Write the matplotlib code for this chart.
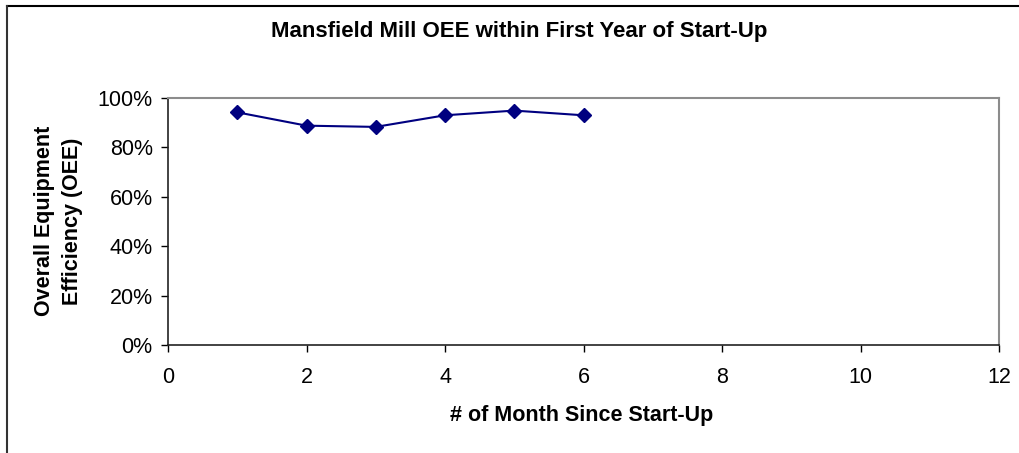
import matplotlib
matplotlib.use("Agg")
import matplotlib.pyplot as plt
from matplotlib.lines import Line2D
from matplotlib.ticker import FuncFormatter

months = [1, 2, 3, 4, 5, 6]
oee = [0.942, 0.888, 0.883, 0.930, 0.949, 0.930]
x_ticks = [0, 2, 4, 6, 8, 10, 12]
y_ticks = [0, 0.2, 0.4, 0.6, 0.8, 1.0]

plt.rcParams['font.family'] = ['Liberation Sans', 'DejaVu Sans']

W, H = 1019, 453
fig = plt.figure(figsize=(W/100, H/100), dpi=100)
ax = fig.add_axes([168/W, 1-345/H, (999-168)/W, (345-98)/H])

ax.plot(months, oee, color='#000080', marker='D', markersize=7, linewidth=1.5)

ax.set_xlim(0, 12)
ax.set_ylim(0, 1.0)
ax.set_xticks(x_ticks)
ax.set_yticks(y_ticks)
ax.yaxis.set_major_formatter(FuncFormatter(lambda v, p: f"{v*100:.0f}%"))
ax.tick_params(axis='both', labelsize=15.5, length=5, width=1, colors='black', direction='out')
ax.tick_params(axis='x', pad=11)
ax.tick_params(axis='y', pad=6)

for s in ['top', 'right']:
    ax.spines[s].set_color('#8c8c8c')
    ax.spines[s].set_linewidth(1.5)
for s in ['left', 'bottom']:
    ax.spines[s].set_color('#222222')
    ax.spines[s].set_linewidth(1.2)

fig.text(582/W, 1-415/H, '# of Month Since Start-Up', ha='center', va='center',
         fontsize=15.5, fontweight='bold')
fig.text(58.5/W, 1-221/H, 'Overall Equipment\nEfficiency (OEE)', ha='center', va='center',
         rotation=90, fontsize=15.5, fontweight='bold', linespacing=1.45, multialignment='center')

fig.text(519/W, 1-32/H, 'Mansfield Mill OEE within First Year of Start-Up',
         ha='center', va='center', fontsize=16, fontweight='bold')

# outer frame (top and left edges visible)
fig.add_artist(Line2D([7/W, 1.0], [1-6/H, 1-6/H], color='black', linewidth=1.5, transform=fig.transFigure))
fig.add_artist(Line2D([7/W, 7/W], [0, 1-6/H], color='#333333', linewidth=1.5, transform=fig.transFigure))

fig.savefig('out.png', dpi=100)
